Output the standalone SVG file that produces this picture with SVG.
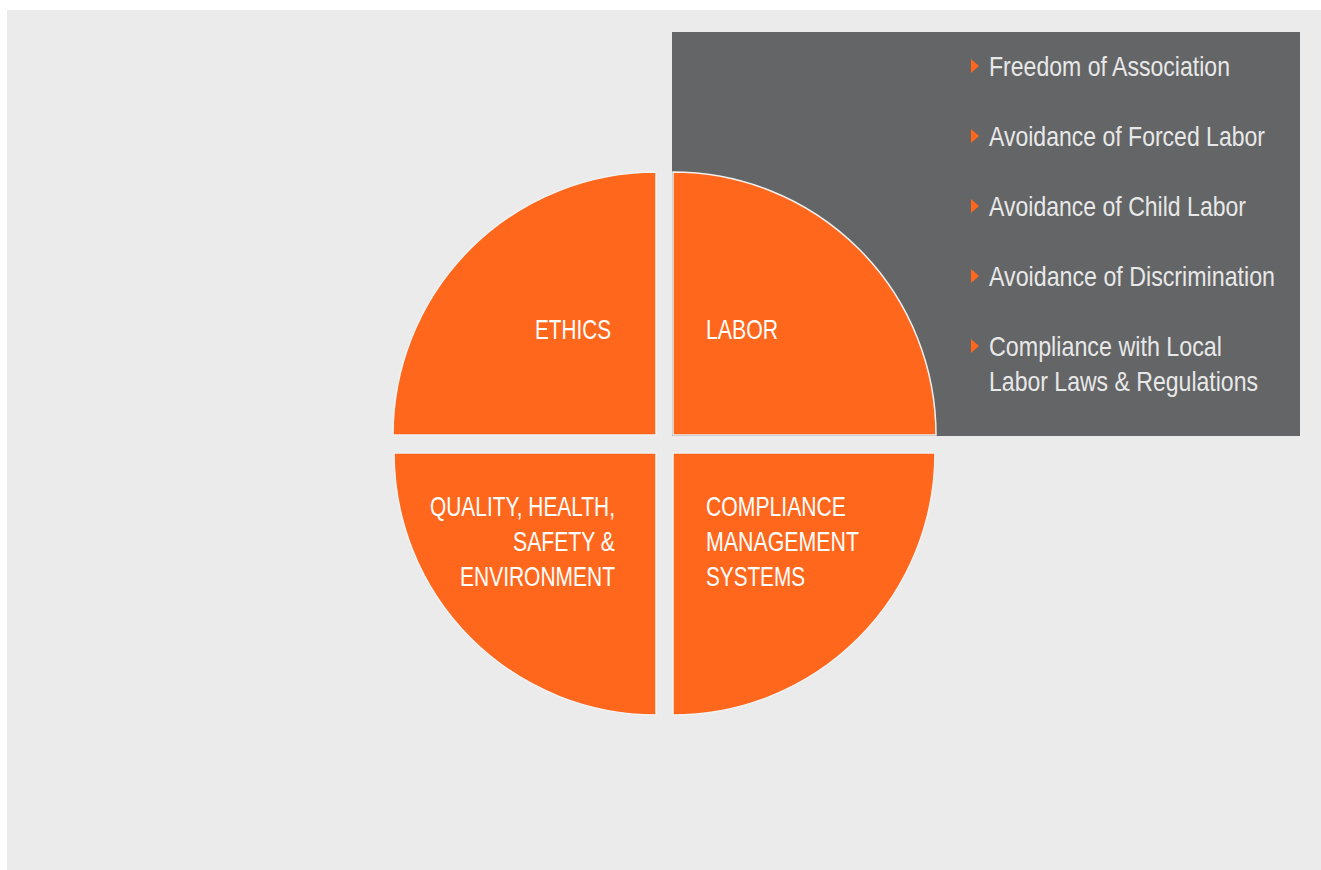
<svg xmlns="http://www.w3.org/2000/svg" width="1321" height="870" viewBox="0 0 1321 870">
  <style>
    .q { fill: #ff671d; stroke: #f2f2f2; stroke-width: 1.5; }
    .ql { font-family: "Liberation Sans", "DejaVu Sans", sans-serif; font-size: 28px; fill: #ffffff; }
    .bt { font-family: "Liberation Sans", "DejaVu Sans", sans-serif; font-size: 28px; fill: #e8e8e8; }
    .tri { fill: #ff671d; }
  </style>
  <rect x="0" y="0" width="1321" height="870" fill="#ffffff"/>
  <rect x="7" y="10" width="1314" height="860" fill="#ebebeb"/>
  <g id="details-panel">
    <rect x="672" y="32" width="628" height="404" fill="#646567"/>
    <polygon class="tri" points="971,59 979,66 971,73"/>
    <text class="bt" x="989" y="76" textLength="241" lengthAdjust="spacingAndGlyphs">Freedom of Association</text>
    <polygon class="tri" points="971,129 979,136 971,143"/>
    <text class="bt" x="989" y="146" textLength="276" lengthAdjust="spacingAndGlyphs">Avoidance of Forced Labor</text>
    <polygon class="tri" points="971,199 979,206 971,213"/>
    <text class="bt" x="989" y="216" textLength="257" lengthAdjust="spacingAndGlyphs">Avoidance of Child Labor</text>
    <polygon class="tri" points="971,269 979,276 971,283"/>
    <text class="bt" x="989" y="286" textLength="286" lengthAdjust="spacingAndGlyphs">Avoidance of Discrimination</text>
    <polygon class="tri" points="971,339 979,346 971,353"/>
    <text class="bt" x="989" y="356" textLength="233" lengthAdjust="spacingAndGlyphs">Compliance with Local</text>
    <text class="bt" x="989" y="391" textLength="269" lengthAdjust="spacingAndGlyphs">Labor Laws &amp; Regulations</text>
  </g>
  <g id="ethics">
    <path class="q" d="M656,435 L393,435 A263,263 0 0 1 656,172 Z"/>
    <text class="ql" x="535" y="339" textLength="76" lengthAdjust="spacingAndGlyphs">ETHICS</text>
  </g>
  <g id="labor">
    <path class="q" d="M673,435 L673,172 A263,263 0 0 1 936,435 Z"/>
    <text class="ql" x="706" y="339" textLength="72" lengthAdjust="spacingAndGlyphs">LABOR</text>
  </g>
  <g id="qhse">
    <path class="q" d="M656,453 L656,715 A262,262 0 0 1 394,453 Z"/>
    <text class="ql" x="430" y="516" textLength="185" lengthAdjust="spacingAndGlyphs">QUALITY, HEALTH,</text>
    <text class="ql" x="513" y="551" textLength="102" lengthAdjust="spacingAndGlyphs">SAFETY &amp;</text>
    <text class="ql" x="460" y="586" textLength="155" lengthAdjust="spacingAndGlyphs">ENVIRONMENT</text>
  </g>
  <g id="cms">
    <path class="q" d="M673,453 L935,453 A262,262 0 0 1 673,715 Z"/>
    <text class="ql" x="706" y="516" textLength="140" lengthAdjust="spacingAndGlyphs">COMPLIANCE</text>
    <text class="ql" x="706" y="551" textLength="153" lengthAdjust="spacingAndGlyphs">MANAGEMENT</text>
    <text class="ql" x="706" y="586" textLength="99" lengthAdjust="spacingAndGlyphs">SYSTEMS</text>
  </g>
  <g id="connectors"/>
</svg>
